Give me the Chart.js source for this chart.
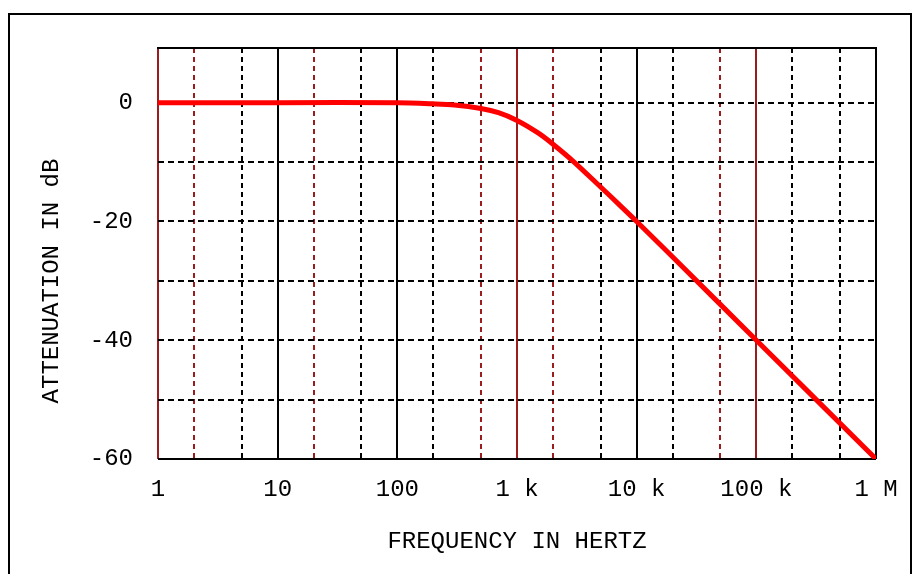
<!DOCTYPE html>
<html>
<head>
<meta charset="utf-8">
<script src="https://cdn.jsdelivr.net/npm/chart.js@4"></script>
<style>
  html, body { margin: 0; padding: 0; background: #fff; overflow: hidden; }
  #wrap { position: relative; width: 919px; height: 574px; }
  #frame { position: absolute; left: 8px; top: 13px; width: 900px; height: 620px; border: 2px solid #000; }
  canvas { position: absolute; left: 0; top: 0; }
</style>
</head>
<body>
<div id="wrap">
  <div id="frame"></div>
  <canvas id="bode" width="919" height="574"></canvas>
</div>
<script>
// curve (Hz, dB)
const freqHz = [1, 10, 100, 200, 300, 500, 700, 1000, 1500, 2000, 3000, 5000, 7000, 10000, 20000, 100000, 1000000];
const attenuationDb = [0, 0, 0, -0.2, -0.4, -1, -1.7, -3, -5.1, -7, -10, -14.2, -17, -20, -26, -40, -60];

// x grid lines and their labels
const xTickValues = [1, 2, 5, 10, 20, 50, 100, 200, 500, 1000, 2000, 5000, 10000, 20000, 50000, 100000, 200000, 500000, 1000000];
const xTickLabels = ['1', '', '', '10', '', '', '100', '', '', '1 k', '', '', '10 k', '', '', '100 k', '', '', '1 M'];

// y grid lines and their labels (plot top sits a bit above +9 dB)
const yTickValues = [0, -10, -20, -30, -40, -50, -60];
const yTickLabels = ['0', '', '-20', '', '-40', '', '-60'];
const yMin = -60;
const yMax = 9.2;

// which vertical lines are dark red in the original
const xRedLines = [1, 2, 20, 500, 1000, 2000, 50000, 100000];

const DARK_RED = '#9a1c1c';
const FONT = "'Liberation Mono', 'DejaVu Sans Mono', monospace";

const yTitlePlugin = {
  id: 'yTitle',
  afterDraw(chart) {
    const ctx = chart.ctx;
    ctx.save();
    ctx.translate(52, 281);
    ctx.rotate(-Math.PI / 2);
    ctx.font = '24px ' + FONT;
    ctx.fillStyle = '#000';
    ctx.textAlign = 'center';
    ctx.textBaseline = 'middle';
    ctx.fillText('ATTENUATION IN dB', 0, 0);
    ctx.restore();
  }
};

const ctx = document.getElementById('bode').getContext('2d');
new Chart(ctx, {
  type: 'line',
  data: {
    datasets: [{
      xAxisID: 'x',
      yAxisID: 'y',
      data: freqHz.map((f, i) => ({ x: f, y: attenuationDb[i] })),
      borderColor: '#ff0000',
      borderWidth: 5,
      pointRadius: 0,
      tension: 0.3,
      fill: false
    }]
  },
  options: {
    responsive: false,
    animation: false,
    layout: { padding: { left: 0, top: 48, right: 43, bottom: 0 } },
    plugins: { legend: { display: false }, tooltip: { enabled: false } },
    scales: {
      x: {
        type: 'logarithmic',
        min: 1,
        max: 1000000,
        afterBuildTicks: (scale) => {
          scale.ticks = xTickValues.map(v => ({ value: v }));
        },
        afterFit: (scale) => { scale.height = 115; },
        ticks: {
          autoSkip: false,
          maxRotation: 0,
          padding: 16,
          color: '#000',
          font: { family: FONT, size: 24 },
          callback: (value) => {
            const i = xTickValues.indexOf(value);
            return i >= 0 ? xTickLabels[i] : '';
          }
        },
        grid: {
          drawTicks: false,
          lineWidth: 2,
          color: (c) => (c.tick && xRedLines.includes(c.tick.value)) ? DARK_RED : '#000'
        },
        border: {
          display: false,
          dash: (c) => {
            if (!c.tick) return [];
            const l = Math.log10(c.tick.value);
            return Math.abs(l - Math.round(l)) < 1e-6 ? [] : [5, 4];
          }
        },
        title: {
          display: true,
          text: 'FREQUENCY IN HERTZ',
          color: '#000',
          font: { family: FONT, size: 24 },
          padding: { top: 0, bottom: 18 }
        }
      },
      xTop: {
        type: 'logarithmic',
        position: 'top',
        min: 1,
        max: 1000000,
        afterFit: (scale) => { scale.height = 0; },
        ticks: { display: false },
        grid: { display: false, drawTicks: false },
        border: { display: true, color: '#000', width: 2 }
      },
      y: {
        min: yMin,
        max: yMax,
        afterBuildTicks: (scale) => {
          scale.ticks = yTickValues.map(v => ({ value: v }));
        },
        afterFit: (scale) => { scale.width = 158; },
        ticks: {
          autoSkip: false,
          padding: 25,
          color: '#000',
          font: { family: FONT, size: 24 },
          callback: (value) => {
            const i = yTickValues.indexOf(value);
            return i >= 0 ? yTickLabels[i] : '';
          }
        },
        grid: {
          drawTicks: false,
          lineWidth: 2,
          color: '#000'
        },
        border: {
          display: false,
          dash: (c) => {
            if (!c.tick) return [];
            return c.tick.value === yMin ? [] : [6, 4];
          }
        }
      }
    }
  },
  plugins: [yTitlePlugin]
});
</script>
</body>
</html>
